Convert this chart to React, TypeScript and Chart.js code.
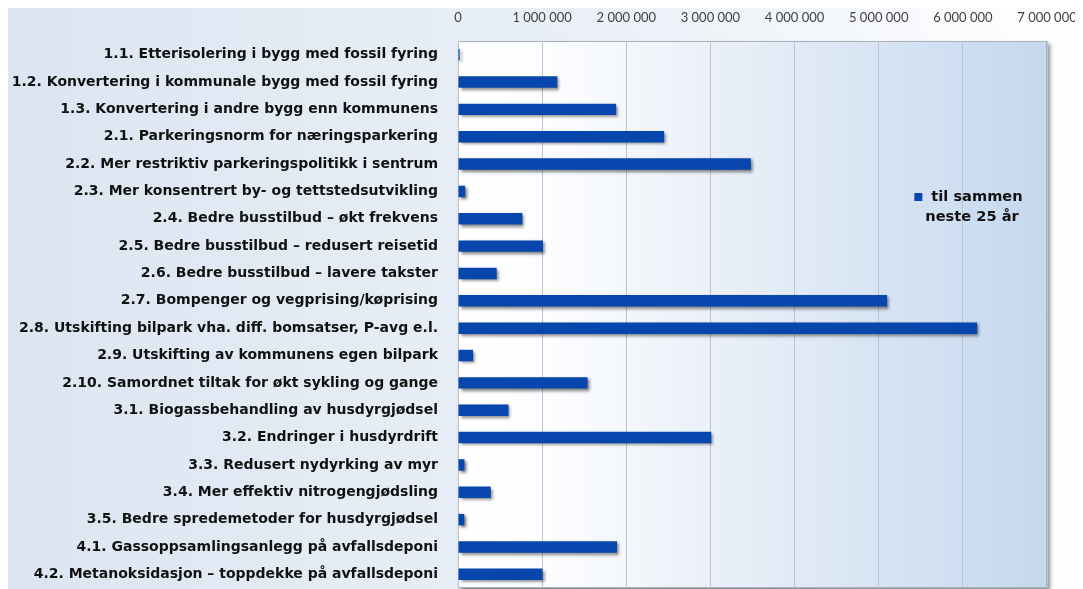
import React, { useEffect, useRef } from "react";
import { Chart, registerables } from "chart.js";

Chart.register(...registerables);

const categories = [
  "1.1. Etterisolering i bygg med fossil fyring",
  "1.2. Konvertering i kommunale bygg med fossil fyring",
  "1.3. Konvertering i andre bygg enn kommunens",
  "2.1. Parkeringsnorm for næringsparkering",
  "2.2. Mer restriktiv parkeringspolitikk i sentrum",
  "2.3. Mer konsentrert by- og tettstedsutvikling",
  "2.4. Bedre busstilbud – økt frekvens",
  "2.5. Bedre busstilbud – redusert reisetid",
  "2.6. Bedre busstilbud – lavere takster",
  "2.7. Bompenger og vegprising/køprising",
  "2.8. Utskifting bilpark vha. diff. bomsatser, P-avg e.l.",
  "2.9. Utskifting av kommunens egen bilpark",
  "2.10. Samordnet tiltak for økt sykling og gange",
  "3.1. Biogassbehandling av husdyrgjødsel",
  "3.2. Endringer i husdyrdrift",
  "3.3. Redusert nydyrking av myr",
  "3.4. Mer effektiv nitrogengjødsling",
  "3.5. Bedre spredemetoder for husdyrgjødsel",
  "4.1. Gassoppsamlingsanlegg på avfallsdeponi",
  "4.2. Metanoksidasjon – toppdekke på avfallsdeponi",
];

const values = [
  20000, 1180000, 1880000, 2450000, 3480000, 85000, 765000, 1010000, 460000,
  5100000, 6170000, 180000, 1540000, 600000, 3010000, 77000, 390000, 75000,
  1890000, 1005000,
];

const seriesLabel = "til sammen neste 25 år";
const legendLines = ["til sammen", "neste 25 år"];

const xMin = 0;
const xMax = 7000000;
const xStep = 1000000;

const formatTick = (v: number) =>
  String(Math.round(v)).replace(/\B(?=(\d{3})+(?!\d))/g, " ");

const backgroundPlugin = {
  id: "bgPlugin",
  beforeDraw(chart: any) {
    const { ctx, width, height, chartArea } = chart;
    ctx.save();
    const g = ctx.createLinearGradient(0, 0, width, 0);
    g.addColorStop(0, "#dbe5f1");
    g.addColorStop(0.5, "#e9eff7");
    g.addColorStop(1, "#ffffff");
    ctx.fillStyle = g;
    ctx.fillRect(0, 0, width, height);

    const { left, top, right, bottom } = chartArea;
    ctx.save();
    ctx.shadowColor = "rgba(0,0,0,0.45)";
    ctx.shadowBlur = 4;
    ctx.shadowOffsetX = 3;
    ctx.shadowOffsetY = 3;
    ctx.fillStyle = "#ffffff";
    ctx.fillRect(left, top, right - left, bottom - top);
    ctx.restore();

    const pg = ctx.createLinearGradient(left, 0, right, 0);
    pg.addColorStop(0, "#ffffff");
    pg.addColorStop(0.15, "#fcfdff");
    pg.addColorStop(0.5, "#e6edf7");
    pg.addColorStop(1, "#c5d8ef");
    ctx.fillStyle = pg;
    ctx.fillRect(left, top, right - left, bottom - top);

    ctx.strokeStyle = "#a9b1bd";
    ctx.lineWidth = 1;
    ctx.strokeRect(left + 0.5, top + 0.5, right - left - 1, bottom - top - 1);
    ctx.restore();
  },
  beforeDatasetsDraw(chart: any) {
    const ctx = chart.ctx;
    ctx.save();
    ctx.shadowColor = "rgba(0,0,0,0.5)";
    ctx.shadowBlur = 3;
    ctx.shadowOffsetX = 2;
    ctx.shadowOffsetY = 2;
  },
  afterDatasetsDraw(chart: any) {
    chart.ctx.restore();
  },
  afterDraw(chart: any) {
    const { ctx, chartArea } = chart;
    const cx = chartArea.right - 77;
    const cy = chartArea.top + 156;
    ctx.save();
    ctx.font = "bold 14.6px 'DejaVu Sans'";
    ctx.fillStyle = "#111111";
    ctx.textBaseline = "middle";
    ctx.textAlign = "center";
    const w1 = ctx.measureText(legendLines[0]).width;
    ctx.fillText(legendLines[0], cx + 7, cy);
    ctx.fillText(legendLines[1], cx + 2, cy + 20);
    ctx.fillStyle = "#0747ad";
    const sx = cx + 7 - w1 / 2 - 17;
    ctx.fillRect(sx, cy - 4, 8, 8);
    ctx.restore();
  },
};

export default function App() {
  const ref = useRef<HTMLCanvasElement>(null);
  useEffect(() => {
    if (!ref.current) return;
    const chart = new Chart(ref.current, {
      type: "bar",
      data: {
        labels: categories,
        datasets: [
          {
            label: seriesLabel,
            data: values,
            backgroundColor: "#0747ad",
            barPercentage: 0.42,
            categoryPercentage: 1,
          },
        ],
      },
      options: {
        indexAxis: "y",
        responsive: false,
        animation: false,
        layout: { padding: { left: 0, right: 36, top: 0, bottom: 1 } },
        plugins: {
          legend: { display: false },
          tooltip: { enabled: false },
        },
        scales: {
          x: {
            position: "top",
            min: xMin,
            max: xMax,
            ticks: {
              stepSize: xStep,
              callback: (v: any) => formatTick(Number(v)),
              font: { family: "Lato", size: 13 },
              color: "#404040",
              padding: 15,
              maxRotation: 0,
            },
            grid: { color: "#bcc3cd", drawTicks: false },
            border: { display: false },
            afterFit: (s: any) => {
              s.height = 33;
              s.paddingLeft = 0;
              s.paddingRight = 0;
            },
          },
          y: {
            ticks: {
              autoSkip: false,
              font: { family: "DejaVu Sans", size: 14, weight: "bold" },
              color: "#111111",
              padding: 12,
            },
            grid: { display: false },
            border: { display: false },
            afterFit: (s: any) => {
              s.width = 450;
              s.paddingTop = 0;
              s.paddingBottom = 0;
            },
          },
        },
      },
      plugins: [backgroundPlugin],
    } as any);
    return () => chart.destroy();
  }, []);
  return (
    <canvas
      ref={ref}
      width={1075}
      height={581}
      style={{ display: "block", width: 1075, height: 581 }}
    />
  );
}
